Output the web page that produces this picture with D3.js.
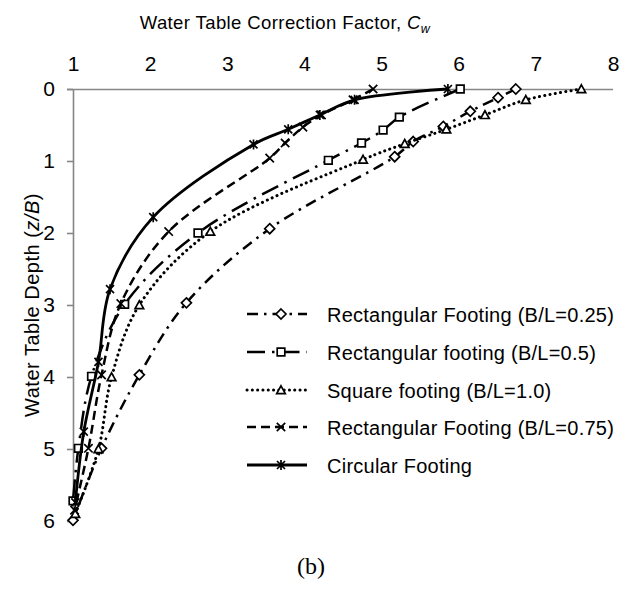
<!DOCTYPE html>
<html>
<head>
<meta charset="utf-8">
<script src="https://cdn.jsdelivr.net/npm/d3@7"></script>
<style>
  html, body { margin: 0; padding: 0; background: #fff; }
  svg { display: block; font-family: "Liberation Sans", Arial, sans-serif; }
</style>
</head>
<body>
<svg id="chart" width="619" height="589"></svg>
<script>
// Water table correction factor C_w versus normalised water table depth z/B
const xTicks = [1, 2, 3, 4, 5, 6, 7, 8];
const yTicks = [0, 1, 2, 3, 4, 5, 6];

// Rectangular footing, B/L = 0.25
const rect025Depth = [0, 0.12, 0.31, 0.52, 0.73, 0.94, 1.94, 2.97, 3.97, 4.99, 5.99];
const rect025Cw    = [6.74, 6.51, 6.15, 5.80, 5.41, 5.17, 3.55, 2.47, 1.86, 1.37, 1.00];

// Rectangular footing, B/L = 0.5
const rect05Depth = [0, 0.39, 0.57, 0.75, 0.99, 2.0, 2.99, 3.99, 4.99, 5.72];
const rect05Cw    = [6.02, 5.23, 5.02, 4.74, 4.31, 2.62, 1.67, 1.24, 1.07, 1.00];

// Square footing, B/L = 1.0
const squareDepth = [0, 0.15, 0.36, 0.56, 0.76, 0.98, 1.98, 3.0, 4.0, 5.0, 5.9];
const squareCw    = [7.59, 6.87, 6.34, 5.84, 5.30, 4.76, 2.78, 1.86, 1.50, 1.33, 1.03];

// Rectangular footing, B/L = 0.75
const rect075Depth = [0, 0.15, 0.36, 0.53, 0.75, 0.96, 1.98, 2.98, 3.97, 4.99, 5.85];
const rect075Cw    = [4.89, 4.63, 4.22, 3.98, 3.75, 3.55, 2.24, 1.62, 1.37, 1.20, 1.02];

// Circular footing
const circDepth = [0, 0.15, 0.36, 0.56, 0.77, 1.78, 2.78, 3.79, 4.76, 5.74];
const circCw    = [5.86, 4.65, 4.20, 3.79, 3.34, 2.04, 1.48, 1.33, 1.14, 1.03];

const seriesNames = [
  "Rectangular Footing (B/L=0.25)",
  "Rectangular footing (B/L=0.5)",
  "Square footing (B/L=1.0)",
  "Rectangular Footing (B/L=0.75)",
  "Circular Footing"
];

const zip = (zs, cs) => zs.map((z, i) => ({ z, c: cs[i] }));

const series = [
  { name: seriesNames[0], pts: zip(rect025Depth, rect025Cw), marker: "diamond",  dash: "11,6,2.5,6", cap: "butt",  width: 2.5 },
  { name: seriesNames[1], pts: zip(rect05Depth, rect05Cw),   marker: "square",   dash: "18,7,2.5,7", cap: "butt",  width: 2.5 },
  { name: seriesNames[2], pts: zip(squareDepth, squareCw),   marker: "triangle", dash: "0.1,5.2",    cap: "round", width: 3.0 },
  { name: seriesNames[3], pts: zip(rect075Depth, rect075Cw), marker: "cross",    dash: "9,5",        cap: "butt",  width: 2.5 },
  { name: seriesNames[4], pts: zip(circDepth, circCw),       marker: "star",     dash: null,         cap: "butt",  width: 2.8 }
];

const svg = d3.select("#chart");
const axisColor = "#868686";

const x = d3.scaleLinear().domain([1, 8]).range([73, 613]);
const y = d3.scaleLinear().domain([0, 6]).range([89, 521]);

// Axes
const xAxis = d3.axisTop(x).tickValues(xTicks).tickSize(0).tickPadding(18).tickFormat(d3.format("d"));
const yAxis = d3.axisLeft(y).tickValues(yTicks).tickSize(6).tickPadding(12).tickFormat(d3.format("d"));

const gx = svg.append("g").attr("transform", `translate(0,${y(0)})`).call(xAxis);
gx.select(".domain").attr("d", `M67,0.5H613`).attr("stroke", axisColor).attr("stroke-width", 1.6);
gx.selectAll(".tick text").attr("font-size", 21).attr("fill", "#000")
  .attr("font-family", '"Liberation Sans", Arial, sans-serif');

const gy = svg.append("g").attr("transform", `translate(${x(1)},0)`).call(yAxis);
gy.select(".domain").attr("d", `M0.5,${y(0)}V${y(6)}`).attr("stroke", axisColor).attr("stroke-width", 1.6);
gy.selectAll(".tick line").attr("stroke", axisColor).attr("stroke-width", 1.6);
gy.selectAll(".tick text").attr("font-size", 21).attr("fill", "#000")
  .attr("font-family", '"Liberation Sans", Arial, sans-serif');

// Axis titles
const title = svg.append("text").attr("x", 285).attr("y", 29).attr("text-anchor", "middle")
  .attr("font-size", 18.5).attr("letter-spacing", 0.4).attr("fill", "#000");
title.append("tspan").text("Water Table Correction Factor, ");
title.append("tspan").attr("font-style", "italic").text("C");
title.append("tspan").attr("font-style", "italic").attr("font-size", 12.5).attr("dy", 4).text("w");

const ytitle = svg.append("text").attr("transform", "translate(39,305) rotate(-90)")
  .attr("text-anchor", "middle").attr("font-size", 20).attr("letter-spacing", 0.5).attr("fill", "#000");
ytitle.append("tspan").text("Water Table Depth (");
ytitle.append("tspan").attr("font-style", "italic").text("z/B");
ytitle.append("tspan").text(")");

// Marker shapes
function markerPath(type) {
  switch (type) {
    case "diamond":  return "M0,-5L5,0L0,5L-5,0Z";
    case "square":   return "M-3.8,-3.8H3.8V3.8H-3.8Z";
    case "triangle": return "M0,-4.2L4.3,3.6H-4.3Z";
    case "cross":    return "M-4.2,-4.2L4.2,4.2M-4.2,4.2L4.2,-4.2";
    case "star":     return "M-4,-4L4,4M-4,4L4,-4M0,-5V5";
  }
}
const filled = t => t === "diamond" || t === "square" || t === "triangle";

const line = d3.line().x(d => x(d.c)).y(d => y(d.z)).curve(d3.curveCatmullRom.alpha(0.5));

const plot = svg.append("g");
series.forEach(s => {
  const g = plot.append("g");
  g.append("path").datum(s.pts).attr("d", line)
    .attr("fill", "none").attr("stroke", "#000").attr("stroke-width", s.width)
    .attr("stroke-dasharray", s.dash).attr("stroke-linecap", s.cap);
  g.selectAll("path.mk").data(s.pts).join("path").attr("class", "mk")
    .attr("transform", d => `translate(${x(d.c)},${y(d.z)})`)
    .attr("d", markerPath(s.marker))
    .attr("fill", filled(s.marker) ? "#fff" : "none")
    .attr("stroke", "#000").attr("stroke-width", 1.7);
});

// Legend
const legend = svg.append("g");
const legendRows = [314, 352, 390, 427, 465];
series.forEach((s, i) => {
  const ly = legendRows[i];
  const g = legend.append("g").attr("transform", `translate(0,${ly})`);
  g.append("line").attr("x1", 247).attr("x2", 307).attr("y1", 0).attr("y2", 0)
    .attr("stroke", "#000").attr("stroke-width", s.width)
    .attr("stroke-dasharray", s.dash).attr("stroke-linecap", s.cap);
  g.append("path").attr("transform", "translate(281,0)").attr("d", markerPath(s.marker))
    .attr("fill", filled(s.marker) ? "#fff" : "none").attr("stroke", "#000").attr("stroke-width", 1.7);
  g.append("text").attr("x", 327).attr("y", 7.5).attr("font-size", 20).attr("letter-spacing", 0.25)
    .attr("fill", "#000").text(s.name);
});

// Panel label
svg.append("text").attr("x", 311).attr("y", 574).attr("text-anchor", "middle")
  .attr("font-family", '"Liberation Serif", "Times New Roman", serif').attr("font-size", 24)
  .attr("fill", "#000").text("(b)");
</script>
</body>
</html>
